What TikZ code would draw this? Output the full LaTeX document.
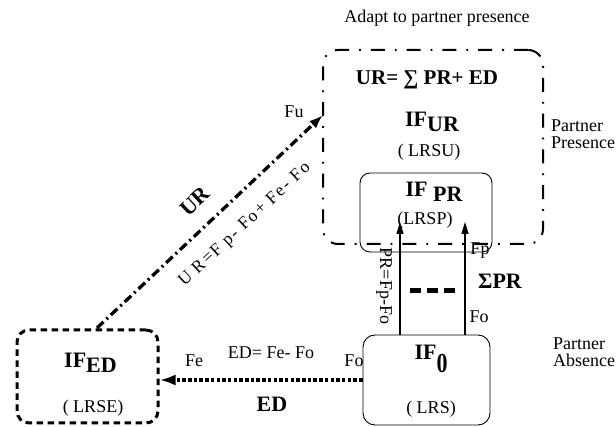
\documentclass[tikz,border=0pt]{standalone}
\usepackage{fontspec}
\setmainfont{Liberation Serif}
\usetikzlibrary{arrows.meta,calc}
\begin{document}
\begin{tikzpicture}[x=1pt,y=-1pt,
  lbl/.style={inner sep=0pt, anchor=base, font=\fontsize{18}{18}\selectfont},
  bold/.style={inner sep=0pt, anchor=base, font=\fontsize{22}{22}\selectfont\bfseries},
  boxsolid/.style={draw, line width=0.9pt, rounded corners=11pt, inner sep=0pt},
  dashdotbox/.style={draw, line width=2pt, rounded corners=15pt, inner sep=0pt, dash pattern=on 14pt off 10pt on 1.8pt off 10pt},
  dashbox/.style={draw, line width=3pt, rounded corners=12pt, inner sep=0pt, dash pattern=on 6.5pt off 4.5pt},
  uparrow/.style={line width=1.2pt, -{Triangle[length=12pt,width=7pt]}},
]
\useasboundingbox (0,0) rectangle (616,427);

% boxes
\node[dashdotbox, minimum width=220pt, minimum height=194pt] (big) at (433,147) {};
\node[boxsolid, rounded corners=10pt, minimum width=132pt, minimum height=79pt] (pr) at (426,212.5) {};
\node[boxsolid, rounded corners=12pt, minimum width=127pt, minimum height=90pt] (zero) at (426.5,380) {};
\node[dashbox, minimum width=141pt, minimum height=93pt] (ed) at (87.5,376.5) {};

% coordinates
\coordinate (x1) at (400,222);
\coordinate (x2) at (465,222);
\coordinate (urs) at (97,328);
\coordinate (ure) at (323,115);
\coordinate (d1) at (410,291);
\coordinate (d2) at (456,291);

% connectors
\draw[uparrow] (x1 |- zero.north) -- (x1);
\draw[uparrow] (x2 |- zero.north) -- (x2);
\draw[line width=3.5pt, dash pattern=on 3.5pt off 2.2pt, -{Latex[length=16pt,width=11pt]}] (zero.west) -- (zero.west -| ed.east);
\draw[line width=3.3pt, dash pattern=on 9pt off 4pt on 2pt off 4pt, -{Latex[length=14pt,width=10pt]}] (urs) -- (ure);
\draw[line width=5pt, dash pattern=on 11pt off 6pt] (d1) -- (d2);

% texts
\node[lbl] (adapt) at (437,23) {Adapt to partner presence};
\node[bold, font=\fontsize{21}{21}\selectfont\bfseries] (eq) at (427,85) {UR= ∑ PR+ ED};
\node[bold] (ifur) at (432,127) {IF\raisebox{-5pt}{UR}};
\node[lbl] (lrsu) at (429,157) {( LRSU)};
\node[bold] (ifpr) at (434,197) {IF \raisebox{-5pt}{PR}};
\node[lbl] (lrsp) at (425,225) {(LRSP)};
\node[lbl] (fp) at (480,255) {Fp};
\node[bold] (sigpr) at (500,289) {ΣPR};
\node[lbl] (fo2) at (479,323) {Fo};
\node[lbl, anchor=center, rotate=-90] (prf) at (384,286) {PR=Fp-Fo};
\node[bold] (if0) at (431,360) {IF\raisebox{-13pt}{\scalebox{1}[1.25]{\fontsize{22}{22}\selectfont 0}}};
\node[lbl] (lrs) at (431,414) {( LRS)};
\node[lbl] (fo1) at (354,367) {Fo};
\node[lbl] (fe) at (194,367) {Fe};
\node[lbl] (edeq) at (271,359) {ED= Fe- Fo};
\node[bold] (edl) at (272,412) {ED};
\node[bold] (ifed) at (90.5,368) {IF\raisebox{-5pt}{ED}};
\node[lbl] (lrse) at (93,413) {( LRSE)};
\node[lbl, anchor=base west, align=left] (pp) at (551,149) {Partner\\[-0.5pt]Presence};
\node[lbl, anchor=base west, align=left] (pa) at (553,367) {Partner\\[-0.5pt]Absence};
\node[lbl] (fu) at (294,118) {Fu};
\node[bold, anchor=center, rotate=43] (url) at (195,201) {UR};
\node[lbl, anchor=center, rotate=43, font=\fontsize{17.5}{18}\selectfont\addfontfeature{LetterSpace=10}] (ureq) at (245,225) {U R=F p- Fo+ Fe- Fo};
\end{tikzpicture}
\end{document}
